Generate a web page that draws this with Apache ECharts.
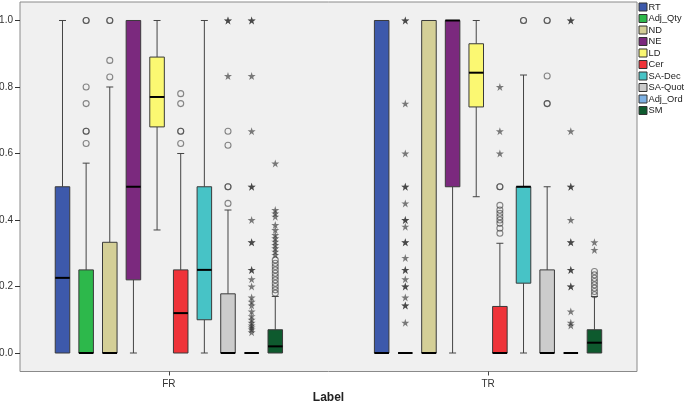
<!DOCTYPE html>
<html>
<head>
<meta charset="utf-8">
<script src="https://cdn.jsdelivr.net/npm/echarts@6/dist/echarts.min.js"></script>
<style>html,body{margin:0;padding:0;background:#fff}#c{width:685px;height:404px}</style>
</head>
<body>
<div id="c"></div>
<script>
// ---- data ----
const groups = ['FR', 'TR'];
const variables = ['RT', 'Adj_Qty', 'ND', 'NE', 'LD', 'Cer', 'SA-Dec', 'SA-Quot', 'Adj_Ord', 'SM'];
const colors = ['#3D59AB', '#2DB84B', '#D4CF97', '#7B297E', '#FBF872', '#EF3339', '#47C3C6', '#CCCCCC', '#7EB1E3', '#0E5A2E'];
const yTicks = [0, 0.2, 0.4, 0.6, 0.8, 1.0];

// [min, Q1, median, Q3, max] per variable
const boxFR = [
  [0, 0, 0.226, 0.5, 1.0],
  [0, 0, 0, 0.25, 0.571],
  [0, 0, 0, 0.333, 0.8],
  [0, 0.22, 0.5, 1.0, 1.0],
  [0.37, 0.68, 0.77, 0.89, 1.0],
  [0, 0, 0.12, 0.25, 0.6],
  [0, 0.1, 0.25, 0.5, 1.0],
  [0, 0, 0, 0.178, 0.43],
  [0, 0, 0, 0, 0],
  [0, 0, 0.02, 0.07, 0.17]
];
const boxTR = [
  [0, 0, 0, 1.0, 1.0],
  [0, 0, 0, 0, 0],
  [0, 0, 0, 1.0, 1.0],
  [0, 0.5, 1.0, 1.0, 1.0],
  [0.47, 0.74, 0.843, 0.93, 1.0],
  [0, 0, 0, 0.14, 0.33],
  [0, 0.21, 0.5, 0.5, 0.836],
  [0, 0, 0, 0.25, 0.5],
  [0, 0, 0, 0, 0],
  [0, 0, 0.031, 0.07, 0.17]
];

// outliers (circles) and extreme values (stars): [variable, value]
const mildFR = [
  ['Adj_Qty', 1.0], ['Adj_Qty', 1.0], ['Adj_Qty', 0.8], ['Adj_Qty', 0.75], ['Adj_Qty', 0.667], ['Adj_Qty', 0.667], ['Adj_Qty', 0.63],
  ['ND', 1.0], ['ND', 1.0], ['ND', 0.88], ['ND', 0.83],
  ['Cer', 0.78], ['Cer', 0.75], ['Cer', 0.667], ['Cer', 0.667], ['Cer', 0.63],
  ['SA-Quot', 0.667], ['SA-Quot', 0.625], ['SA-Quot', 0.5], ['SA-Quot', 0.5], ['SA-Quot', 0.45],
  ['SM', 0.18], ['SM', 0.19], ['SM', 0.2], ['SM', 0.21], ['SM', 0.22], ['SM', 0.23], ['SM', 0.24], ['SM', 0.25], ['SM', 0.26], ['SM', 0.27], ['SM', 0.28]
];
const extremeFR = [
  ['SA-Quot', 1.0], ['SA-Quot', 1.0], ['SA-Quot', 0.833],
  ['Adj_Ord', 1.0], ['Adj_Ord', 1.0], ['Adj_Ord', 0.833], ['Adj_Ord', 0.667], ['Adj_Ord', 0.5], ['Adj_Ord', 0.5], ['Adj_Ord', 0.4],
  ['Adj_Ord', 0.333], ['Adj_Ord', 0.333], ['Adj_Ord', 0.25], ['Adj_Ord', 0.25], ['Adj_Ord', 0.222], ['Adj_Ord', 0.2], ['Adj_Ord', 0.167],
  ['Adj_Ord', 0.154], ['Adj_Ord', 0.143], ['Adj_Ord', 0.125], ['Adj_Ord', 0.111], ['Adj_Ord', 0.1], ['Adj_Ord', 0.091], ['Adj_Ord', 0.083],
  ['Adj_Ord', 0.077], ['Adj_Ord', 0.071], ['Adj_Ord', 0.0625],
  ['SM', 0.57], ['SM', 0.43], ['SM', 0.42], ['SM', 0.41], ['SM', 0.385], ['SM', 0.37], ['SM', 0.355], ['SM', 0.345], ['SM', 0.335],
  ['SM', 0.325], ['SM', 0.315], ['SM', 0.305], ['SM', 0.295]
];
const mildTR = [
  ['Cer', 0.5], ['Cer', 0.5], ['Cer', 0.444], ['Cer', 0.43], ['Cer', 0.42], ['Cer', 0.41], ['Cer', 0.4], ['Cer', 0.39], ['Cer', 0.375], ['Cer', 0.36],
  ['SA-Dec', 1.0], ['SA-Dec', 1.0],
  ['SA-Quot', 1.0], ['SA-Quot', 1.0], ['SA-Quot', 0.833], ['SA-Quot', 0.75], ['SA-Quot', 0.75],
  ['SM', 0.245], ['SM', 0.235], ['SM', 0.225], ['SM', 0.215], ['SM', 0.205], ['SM', 0.195], ['SM', 0.185], ['SM', 0.175]
];
const extremeTR = [
  ['Adj_Qty', 1.0], ['Adj_Qty', 1.0], ['Adj_Qty', 0.75], ['Adj_Qty', 0.6], ['Adj_Qty', 0.5], ['Adj_Qty', 0.5], ['Adj_Qty', 0.45],
  ['Adj_Qty', 0.4], ['Adj_Qty', 0.4], ['Adj_Qty', 0.38], ['Adj_Qty', 0.333], ['Adj_Qty', 0.333], ['Adj_Qty', 0.286], ['Adj_Qty', 0.25],
  ['Adj_Qty', 0.25], ['Adj_Qty', 0.222], ['Adj_Qty', 0.2], ['Adj_Qty', 0.2], ['Adj_Qty', 0.167], ['Adj_Qty', 0.143], ['Adj_Qty', 0.143], ['Adj_Qty', 0.091],
  ['Cer', 0.8], ['Cer', 0.667], ['Cer', 0.6],
  ['Adj_Ord', 1.0], ['Adj_Ord', 1.0], ['Adj_Ord', 0.667], ['Adj_Ord', 0.5], ['Adj_Ord', 0.5], ['Adj_Ord', 0.4], ['Adj_Ord', 0.333],
  ['Adj_Ord', 0.333], ['Adj_Ord', 0.25], ['Adj_Ord', 0.25], ['Adj_Ord', 0.2], ['Adj_Ord', 0.2], ['Adj_Ord', 0.125], ['Adj_Ord', 0.091], ['Adj_Ord', 0.083],
  ['SM', 0.333], ['SM', 0.31]
];

// ---- layout: each box sits on a slot of a numeric position axis ----
const groupStart = [3, 30];   // first slot of each group
const stride = 2;             // slots per box
const groupCenters = groups.map((g, gi) => groupStart[gi] + stride * (variables.length - 1) / 2);
const slotOf = (gi, name) => groupStart[gi] + stride * variables.indexOf(name);

const boxStats = [boxFR, boxTR];
const mild = [mildFR, mildTR];
const extreme = [extremeFR, extremeTR];

function renderBox(params, api) {
  const x = api.value(0);
  const mn = api.value(1), q1 = api.value(2), md = api.value(3), q3 = api.value(4), mx = api.value(5);
  const slot = api.size([1, 0])[0];
  const bw = slot * 1.23, hw = bw / 2, cap = bw * 0.24;
  const cx = api.coord([x, md])[0];
  const y = v => api.coord([x, v])[1];
  const ls = { stroke: '#444', lineWidth: 1 };
  const ch = [];
  if (mx > q3) {
    ch.push({ type: 'line', shape: { x1: cx, y1: y(q3), x2: cx, y2: y(mx) }, style: ls });
    ch.push({ type: 'line', shape: { x1: cx - cap, y1: y(mx), x2: cx + cap, y2: y(mx) }, style: ls });
  }
  if (mn < q1) {
    ch.push({ type: 'line', shape: { x1: cx, y1: y(q1), x2: cx, y2: y(mn) }, style: ls });
    ch.push({ type: 'line', shape: { x1: cx - cap, y1: y(mn), x2: cx + cap, y2: y(mn) }, style: ls });
  }
  if (q3 > q1) {
    ch.push({ type: 'rect', shape: { x: cx - hw, y: y(q3), width: bw, height: y(q1) - y(q3) },
      style: { fill: api.visual('color'), stroke: '#3a3a3a', lineWidth: 1 } });
  }
  ch.push({ type: 'line', shape: { x1: cx - hw, y1: y(md), x2: cx + hw, y2: y(md) }, style: { stroke: '#000', lineWidth: 2 } });
  return { type: 'group', children: ch };
}

const series = variables.map((name, vi) => ({
  name: name,
  type: 'custom',
  xAxisIndex: 1, yAxisIndex: 1,
  renderItem: renderBox,
  clip: false,
  itemStyle: { color: colors[vi] },
  encode: { x: 0, y: [1, 2, 3, 4, 5] },
  data: groups.map((g, gi) => [slotOf(gi, name)].concat(boxStats[gi][vi])),
  z: 2
}));

const starPath = 'path://M0,-1L0.2245,-0.309L0.951,-0.309L0.363,0.118L0.588,0.809L0,0.382L-0.588,0.809L-0.363,0.118L-0.951,-0.309L-0.2245,-0.309Z';
const circleData = [], starData = [];
groups.forEach((g, gi) => {
  mild[gi].forEach(([n, v]) => circleData.push([slotOf(gi, n), v]));
  extreme[gi].forEach(([n, v]) => starData.push([slotOf(gi, n), v]));
});
series.push({
  name: 'outliers', type: 'scatter', xAxisIndex: 1, yAxisIndex: 1, symbol: 'circle', symbolSize: 6, clip: false,
  itemStyle: { color: 'rgba(0,0,0,0)', borderColor: 'rgba(60,60,60,0.75)', borderWidth: 1.1 },
  data: circleData, z: 3, silent: true
});
series.push({
  name: 'extremes', type: 'scatter', xAxisIndex: 1, yAxisIndex: 1, symbol: starPath, symbolSize: 8, clip: false,
  itemStyle: { color: 'rgba(40,40,40,0.75)' },
  data: starData, z: 3, silent: true
});

const font = 'Liberation Sans, Arial, sans-serif';
const frame = { left: 20, top: 2, right: 48, bottom: 32.5 };
const chart = echarts.init(document.getElementById('c'), null, { renderer: 'canvas' });
chart.setOption({
  animation: false,
  backgroundColor: '#ffffff',
  textStyle: { fontFamily: font },
  grid: [
    Object.assign({ show: true, backgroundColor: '#f0f0f0', borderColor: '#8a8a8a', borderWidth: 1, z: 0,
      containLabel: false, outerBoundsMode: 'none' }, frame),
    Object.assign({ containLabel: false, outerBoundsMode: 'none' }, frame)
  ],
  xAxis: [
    { gridIndex: 0, type: 'value', min: 0, max: 1, name: 'Label', nameLocation: 'middle', nameGap: 20,
      nameTextStyle: { fontWeight: 'bold', fontSize: 12, color: '#222', fontFamily: font },
      axisLine: { show: false, onZero: false }, axisTick: { show: false }, axisLabel: { show: false }, splitLine: { show: false } },
    { gridIndex: 1, type: 'value', min: -0.595, max: 51.6, position: 'bottom',
      axisLine: { show: false, onZero: false },
      axisTick: { show: true, length: 4, customValues: groupCenters, lineStyle: { color: '#444' } },
      axisLabel: { customValues: groupCenters, margin: 8, fontSize: 10, color: '#333', fontFamily: font,
        formatter: v => groups[groupCenters.indexOf(v)] || '' },
      splitLine: { show: false } }
  ],
  yAxis: [
    { gridIndex: 0, type: 'value', show: false },
    { gridIndex: 1, type: 'value', min: -0.0556, max: 1.0556, position: 'left',
      axisLine: { show: false, onZero: false },
      axisTick: { show: true, length: 5, customValues: yTicks, lineStyle: { color: '#333' } },
      axisLabel: { customValues: yTicks, margin: 7, fontSize: 10, color: '#333', fontFamily: font,
        formatter: v => v.toFixed(1) },
      splitLine: { show: false } }
  ],
  legend: {
    orient: 'vertical', left: 638.5, top: 1.5, padding: 0, itemWidth: 8, itemHeight: 8, itemGap: 0.5,
    icon: 'rect',
    textStyle: { fontSize: 9.3, color: '#222', lineHeight: 11, fontFamily: font, padding: [0, 0, 0, -3.5] },
    data: variables.map((n, vi) => ({ name: n, itemStyle: { color: colors[vi], borderColor: '#333', borderWidth: 1 } }))
  },
  series: series
});
</script>
</body>
</html>
